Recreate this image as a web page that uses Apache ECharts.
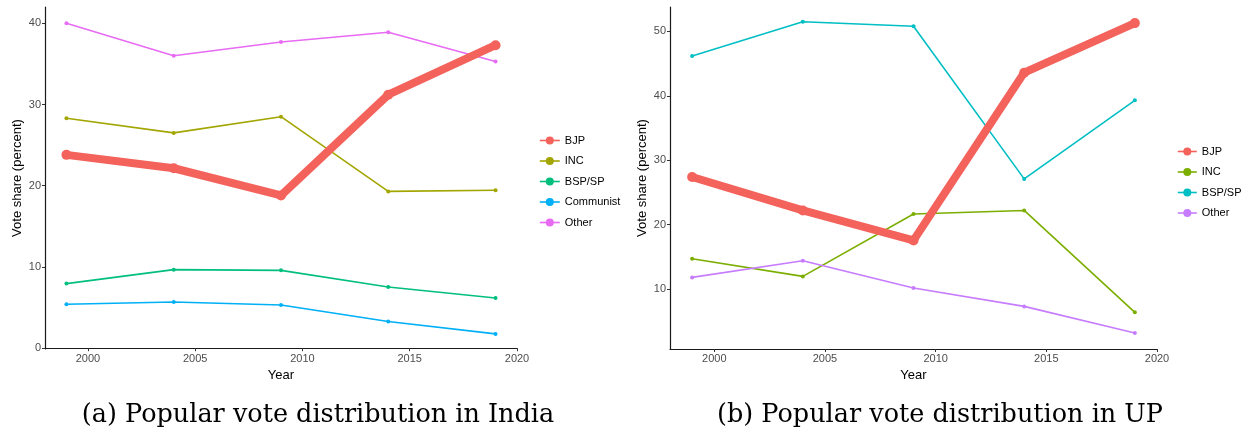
<!DOCTYPE html>
<html>
<head>
<meta charset="utf-8">
<script src="https://cdn.jsdelivr.net/npm/echarts@6/dist/echarts.min.js"></script>
<style>
html,body{margin:0;padding:0;background:#fff;}
#chart{width:1243px;height:433px;}
</style>
</head>
<body>
<div id="chart"></div>
<script>
// ---- data ----
const years = [1999, 2004, 2009, 2014, 2019];
const xTicks = [2000, 2005, 2010, 2015, 2020];
const yTicksIndia = [0, 10, 20, 30, 40];
const yTicksUP = [10, 20, 30, 40, 50];

const indiaNames = ['BJP', 'INC', 'BSP/SP', 'Communist', 'Other'];
const indiaBJP = [23.8, 22.15, 18.8, 31.2, 37.3];
const indiaINC = [28.3, 26.5, 28.5, 19.3, 19.45];
const indiaBSP = [7.95, 9.67, 9.58, 7.53, 6.18];
const indiaCommunist = [5.4, 5.69, 5.32, 3.28, 1.76];
const indiaOther = [40.0, 36.0, 37.7, 38.9, 35.3];

const upNames = ['BJP', 'INC', 'BSP/SP', 'Other'];
const upBJP = [27.4, 22.2, 17.55, 43.6, 51.3];
const upINC = [14.7, 11.96, 21.65, 22.2, 6.37];
const upBSP = [46.2, 51.5, 50.8, 27.1, 39.3];
const upOther = [11.8, 14.4, 10.15, 7.3, 3.17];

const captionA = '(a) Popular vote distribution in India';
const captionB = '(b) Popular vote distribution in UP';

// ---- styling ----
const indiaColors = ['#F4625C', '#A3A500', '#00BF7D', '#00B0F6', '#E76BF3'];
const upColors = ['#F4625C', '#7CAE00', '#00BFC4', '#C77CFF'];
const UP_SUFFIX = ' (UP)';

function pairs(vals) { return years.map((y, i) => [y, vals[i]]); }

function mkSeries(name, vals, color, idx, thick) {
  return {
    type: 'line', name: name, xAxisIndex: idx, yAxisIndex: idx,
    data: pairs(vals), color: color,
    symbol: 'circle', symbolSize: thick ? 10 : 4,
    showSymbol: true,
    lineStyle: { width: thick ? 8 : 1.6, color: color },
    itemStyle: { color: color },
    z: thick ? 3 : 2,
    animation: false,
    emphasis: { disabled: true }
  };
}

const axisLineStyle = { color: '#1a1a1a', width: 1.2 };
function xAxis(idx) {
  return {
    type: 'value', gridIndex: idx, min: 1998, max: 2020,
    name: 'Year', nameLocation: 'middle', nameGap: 19,
    nameTextStyle: { color: '#000', fontSize: 13, fontFamily: 'Liberation Sans' },
    axisLine: { show: true, lineStyle: axisLineStyle },
    axisTick: { show: true, length: 3, lineStyle: { color: '#333' }, customValues: xTicks },
    axisLabel: { color: '#4D4D4D', fontSize: 11, fontFamily: 'Liberation Sans', margin: 4, customValues: xTicks,
      formatter: v => String(v) },
    splitLine: { show: false }
  };
}
function yAxis(idx, min, max, ticks) {
  return {
    type: 'value', gridIndex: idx, min: min, max: max,
    name: 'Vote share (percent)', nameLocation: 'middle', nameGap: 21, nameRotate: 90,
    nameTextStyle: { color: '#000', fontSize: 13, fontFamily: 'Liberation Sans' },
    axisLine: { show: true, lineStyle: axisLineStyle },
    axisTick: { show: true, length: 3, lineStyle: { color: '#333' }, customValues: ticks },
    axisLabel: { color: '#4D4D4D', fontSize: 11, fontFamily: 'Liberation Sans', margin: 4, customValues: ticks },
    splitLine: { show: false }
  };
}

const captionStyle = { fontFamily: 'DejaVu Serif', fontWeight: 'normal', fontSize: 25.5, color: '#000' };
const legendText = { fontSize: 11, color: '#000', fontFamily: 'Liberation Sans' };

const chart = echarts.init(document.getElementById('chart'), null, { renderer: 'canvas' });
const option = {
  animation: false,
  backgroundColor: '#fff',
  title: [
    { text: captionA, left: 318, top: 402, textAlign: 'center', textStyle: captionStyle, padding: 0 },
    { text: captionB, left: 940, top: 402, textAlign: 'center', textStyle: captionStyle, padding: 0 }
  ],
  grid: [
    { left: 45, top: 7, width: 472, height: 342 },
    { left: 670, top: 7, width: 487, height: 342 }
  ],
  xAxis: [xAxis(0), xAxis(1)],
  yAxis: [yAxis(0, -0.1, 42, yTicksIndia), yAxis(1, 0.68, 53.8, yTicksUP)],
  legend: [
    { data: indiaNames, orient: 'vertical', left: 539, top: 135, padding: 0, itemWidth: 20, itemHeight: 10, itemGap: 9.5,
      textStyle: legendText, lineStyle: { width: 1.6 }, selectedMode: false },
    { data: upNames.map(n => n + UP_SUFFIX), orient: 'vertical', left: 1177, top: 146, padding: 0, itemWidth: 19, itemHeight: 10, itemGap: 9.5,
      formatter: n => n.replace(UP_SUFFIX, ''),
      textStyle: legendText, lineStyle: { width: 1.6 }, selectedMode: false }
  ],
  series: [
    mkSeries('INC', indiaINC, indiaColors[1], 0, false),
    mkSeries('BSP/SP', indiaBSP, indiaColors[2], 0, false),
    mkSeries('Communist', indiaCommunist, indiaColors[3], 0, false),
    mkSeries('Other', indiaOther, indiaColors[4], 0, false),
    mkSeries('BJP', indiaBJP, indiaColors[0], 0, true),
    mkSeries('INC' + UP_SUFFIX, upINC, upColors[1], 1, false),
    mkSeries('BSP/SP' + UP_SUFFIX, upBSP, upColors[2], 1, false),
    mkSeries('Other' + UP_SUFFIX, upOther, upColors[3], 1, false),
    mkSeries('BJP' + UP_SUFFIX, upBJP, upColors[0], 1, true)
  ]
};
chart.setOption(option);
</script>
</body>
</html>
